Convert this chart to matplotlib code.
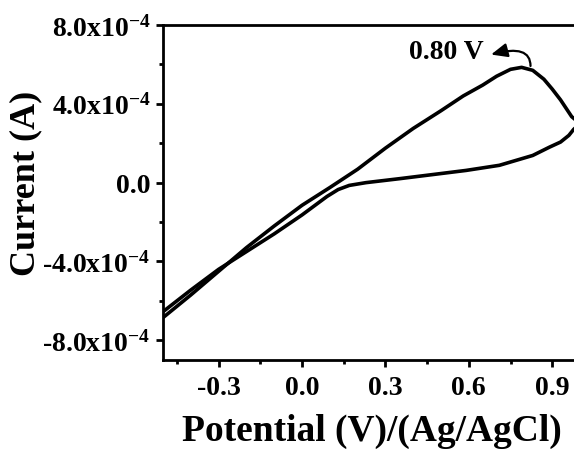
import matplotlib
matplotlib.use("Agg")
import matplotlib.pyplot as plt
from matplotlib.ticker import FixedLocator

plt.rcParams['font.family'] = ['Liberation Serif', 'DejaVu Serif']
plt.rcParams['font.weight'] = 'bold'
plt.rcParams['mathtext.fontset'] = 'custom'
plt.rcParams['mathtext.rm'] = 'Liberation Serif:bold'
plt.rcParams['mathtext.it'] = 'Liberation Serif:bold'
plt.rcParams['mathtext.bf'] = 'Liberation Serif:bold'

# Forward (anodic) scan: potential (V) and current (A)
fwd_v = [-0.50, -0.40, -0.30, -0.20, -0.10, 0.00, 0.10, 0.20, 0.30, 0.40, 0.50,
         0.58, 0.65, 0.70, 0.75, 0.79, 0.83, 0.87, 0.90, 0.93, 0.97, 1.00]
fwd_i = [-6.85e-4, -5.70e-4, -4.50e-4, -3.30e-4, -2.20e-4, -1.15e-4, -0.25e-4,
         0.68e-4, 1.75e-4, 2.75e-4, 3.65e-4, 4.40e-4, 4.95e-4, 5.40e-4,
         5.75e-4, 5.85e-4, 5.70e-4, 5.25e-4, 4.75e-4, 4.20e-4, 3.35e-4, 3.00e-4]

# Reverse (cathodic) scan
rev_v = [1.00, 0.977, 0.96, 0.93, 0.89, 0.83, 0.71, 0.59, 0.47, 0.35, 0.23,
         0.17, 0.13, 0.09, 0.00, -0.10, -0.20, -0.30, -0.40, -0.50]
rev_i = [3.00e-4, 2.70e-4, 2.40e-4, 2.06e-4, 1.80e-4, 1.38e-4, 0.88e-4, 0.62e-4,
         0.41e-4, 0.20e-4, 0.00e-4, -0.14e-4, -0.35e-4, -0.70e-4, -1.64e-4,
         -2.60e-4, -3.50e-4, -4.40e-4, -5.45e-4, -6.55e-4]

x_ticks = [-0.3, 0.0, 0.3, 0.6, 0.9]
x_minor = [-0.45, -0.15, 0.15, 0.45, 0.75]
y_ticks = [-8e-4, -4e-4, 0.0, 4e-4, 8e-4]
y_minor = [-6e-4, -2e-4, 2e-4, 6e-4]
y_tick_labels = ['-8.0x10$^{-4}$', '-4.0x10$^{-4}$', '0.0', '4.0x10$^{-4}$', '8.0x10$^{-4}$']

fig = plt.figure(figsize=(5.74, 4.52), dpi=100)
ax = fig.add_axes([163/574, 1 - 361/452, (580 - 163)/574, (361 - 26)/452])

ax.plot(fwd_v, fwd_i, color='black', lw=2.6, solid_capstyle='round', solid_joinstyle='round')
ax.plot(rev_v, rev_i, color='black', lw=2.6, solid_capstyle='round', solid_joinstyle='round')

ax.set_xlim(-0.5, 1.0)
ax.set_ylim(-9e-4, 8e-4)

ax.xaxis.set_major_locator(FixedLocator(x_ticks))
ax.xaxis.set_minor_locator(FixedLocator(x_minor))
ax.set_xticklabels([f'{t:.1f}' for t in x_ticks])
ax.yaxis.set_major_locator(FixedLocator(y_ticks))
ax.yaxis.set_minor_locator(FixedLocator(y_minor))
ax.set_yticklabels(y_tick_labels)

for s in ['left', 'bottom', 'top', 'right']:
    ax.spines[s].set_linewidth(2.0)

ax.tick_params(axis='both', which='major', direction='out', length=5, width=2.0,
               labelsize=20, pad=4)
ax.tick_params(axis='x', which='major', pad=6)
ax.tick_params(axis='both', which='minor', direction='out', length=3, width=2.0)
ax.tick_params(top=False, right=False, which='both')
for lab in ax.get_xticklabels() + ax.get_yticklabels():
    lab.set_fontweight('bold')

ax.set_xlabel('Potential (V)/(Ag/AgCl)', fontsize=27, fontweight='bold', labelpad=9)
ax.set_ylabel('Current (A)', fontsize=26, fontweight='bold', labelpad=0)
ax.yaxis.label.set_y(0.53)

ax.text(0.652, 6.68e-4, '0.80 V', fontsize=20, fontweight='bold', ha='right', va='center')
ax.annotate('', xy=(0.680, 6.50e-4), xytext=(0.822, 5.92e-4),
            arrowprops=dict(arrowstyle='-|>,head_length=0.7,head_width=0.3',
                            connectionstyle='angle3,angleA=90,angleB=15', lw=1.6,
                            color='black', shrinkA=0, shrinkB=0, mutation_scale=14))

fig.savefig('out.png', dpi=100)
